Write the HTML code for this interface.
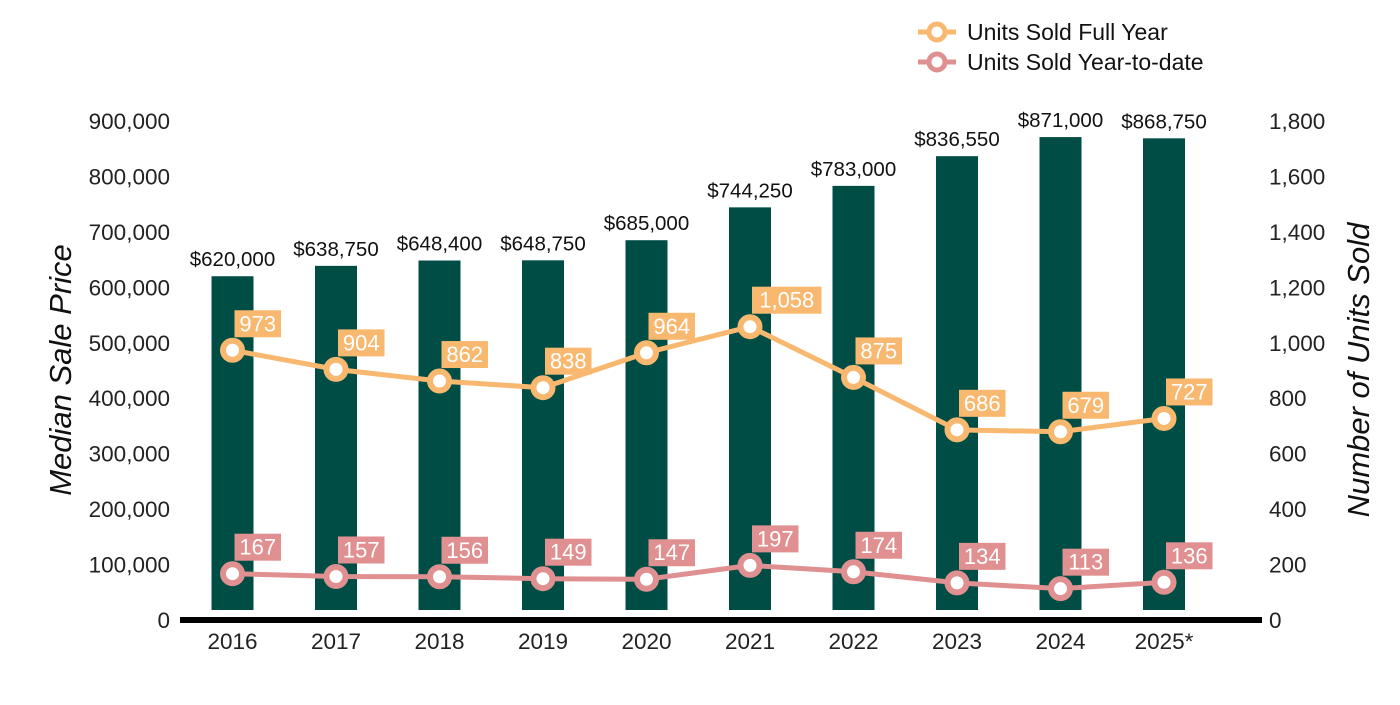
<!DOCTYPE html>
<html><head><meta charset="utf-8"><style>
body{margin:0;background:#fff;font-family:"Liberation Sans",Arial,sans-serif}
svg text{font-family:"Liberation Sans",Arial,sans-serif}
</style></head><body>
<svg id="chart" width="1400" height="700" xmlns="http://www.w3.org/2000/svg"></svg>
<script>
const categories=["2016","2017","2018","2019","2020","2021","2022","2023","2024","2025*"];
const prices=[620000,638750,648400,648750,685000,744250,783000,836550,871000,868750];
const fullYear=[973,904,862,838,964,1058,875,686,679,727];
const ytd=[167,157,156,149,147,197,174,134,113,136];
const leftTicks=[0,100000,200000,300000,400000,500000,600000,700000,800000,900000];
const rightTicks=[0,200,400,600,800,1000,1200,1400,1600,1800];

const svg=document.getElementById('chart');
const NS="http://www.w3.org/2000/svg";
const y0=620,yTop=121;
const yL=v=>y0-(v/900000)*(y0-yTop);
const yR=v=>y0-(v/1800)*(y0-yTop);
const xC=i=>232.5+i*103.5;
function mk(tag,attrs,parent){const e=document.createElementNS(NS,tag);for(const k in attrs)e.setAttribute(k,attrs[k]);(parent||svg).appendChild(e);return e;}
const fmt=n=>n.toLocaleString('en-US');

leftTicks.forEach(v=>{const t=mk('text',{x:170,y:yL(v)+8,'text-anchor':'end','font-size':22.5,fill:'#222'});t.textContent=fmt(v);

});
rightTicks.forEach(v=>{const t=mk('text',{x:1269,y:yR(v)+8,'text-anchor':'start','font-size':22.5,fill:'#222'});t.textContent=fmt(v);

});

let t=mk('text',{x:0,y:0,transform:'translate(71,370) rotate(-90)','text-anchor':'middle','font-size':31,'font-style':'italic',fill:'#111'});t.textContent='Median Sale Price';


t=mk('text',{x:0,y:0,transform:'translate(1369,370) rotate(-90)','text-anchor':'middle','font-size':31,'font-style':'italic',fill:'#111'});t.textContent='Number of Units Sold';



prices.forEach((v,i)=>{
 const b=mk('rect',{x:xC(i)-21,y:yL(v),width:42,height:610-yL(v),fill:'#004D45'});
 
 
 const l=mk('text',{x:xC(i),y:yL(v)-10,'text-anchor':'middle','font-size':20.5,fill:'#111'});l.textContent='$'+fmt(v);
 
 
});

const ax=mk('line',{x1:180,x2:1262,y1:620,y2:620,stroke:'#000','stroke-width':6});


categories.forEach((c,i)=>{const e=mk('text',{x:xC(i),y:649,'text-anchor':'middle','font-size':22.5,fill:'#222'});e.textContent=c;

});

function series(vals,color,name){
 const p=mk('polyline',{points:vals.map((v,i)=>xC(i)+','+yR(v)).join(' '),fill:'none',stroke:color,'stroke-width':5});
 
 
 vals.forEach((v,i)=>{
  const c=mk('circle',{cx:xC(i),cy:yR(v),r:9.5,fill:'#fff',stroke:color,'stroke-width':6});
  
  
  const txt=fmt(v);const w=txt.length*11.5+12;
  const bx=mk('rect',{x:xC(i)+2,y:yR(v)-40,width:w,height:27,fill:color});
  
  
  const l=mk('text',{x:xC(i)+2+w/2,y:yR(v)-19,'text-anchor':'middle','font-size':22,fill:'#fff'});l.textContent=txt;
  
  
 });
}
series(fullYear,'#F8B870','full-year');
series(ytd,'#E09090','ytd');

function legend(y,color,label,name){
 const g=mk('g',{});
 
 
 mk('line',{x1:918,x2:956,y1:y,y2:y,stroke:color,'stroke-width':5},g);
 mk('circle',{cx:937,cy:y,r:8,fill:'#fff',stroke:color,'stroke-width':5},g);
 const e=mk('text',{x:967,y:y+8,'font-size':23,fill:'#111'},g);e.textContent=label;
}
legend(32,'#F8B870','Units Sold Full Year','legend-full-year');
legend(62,'#E09090','Units Sold Year-to-date','legend-ytd');
</script>
</body></html>
